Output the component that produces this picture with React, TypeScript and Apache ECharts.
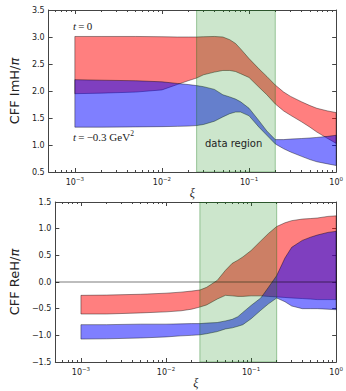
import React, { useEffect, useRef } from 'react';
import * as echarts from 'echarts';

// ---- data ----
const XI = [0.001, 0.002, 0.005, 0.01, 0.015, 0.02, 0.025, 0.03, 0.04, 0.05, 0.06, 0.07, 0.08, 0.1, 0.13, 0.16, 0.2, 0.25, 0.3, 0.4, 0.5, 0.6, 0.8, 1.0];

const IMH_T0_UPPER = [3.01, 3.01, 3.01, 3.005, 3.0, 3.0, 3.0, 3.005, 3.01, 3.0, 2.95, 2.88, 2.78, 2.6, 2.41, 2.27, 2.11, 1.98, 1.9, 1.8, 1.73, 1.68, 1.63, 1.6];
const IMH_T0_LOWER = [1.95, 1.96, 1.98, 2.02, 2.12, 2.19, 2.24, 2.3, 2.35, 2.38, 2.38, 2.36, 2.32, 2.25, 2.07, 1.93, 1.76, 1.63, 1.55, 1.43, 1.33, 1.24, 1.12, 1.03];
const IMH_T03_UPPER = [2.21, 2.2, 2.19, 2.17, 2.14, 2.12, 2.1, 2.08, 2.03, 1.93, 1.89, 1.85, 1.8, 1.68, 1.45, 1.26, 1.1, 1.1, 1.11, 1.12, 1.13, 1.14, 1.16, 1.18];
const IMH_T03_LOWER = [1.33, 1.33, 1.335, 1.34, 1.345, 1.35, 1.36, 1.38, 1.44, 1.52, 1.58, 1.61, 1.61, 1.54, 1.33, 1.18, 1.02, 0.93, 0.87, 0.79, 0.73, 0.69, 0.65, 0.62];

const REH_T0_UPPER = [-0.25, -0.245, -0.23, -0.21, -0.19, -0.17, -0.15, -0.1, 0.03, 0.22, 0.35, 0.41, 0.47, 0.59, 0.77, 0.91, 1.04, 1.11, 1.15, 1.18, 1.19, 1.2, 1.23, 1.24];
const REH_T0_LOWER = [-0.6, -0.6, -0.58, -0.56, -0.54, -0.51, -0.47, -0.43, -0.32, -0.25, -0.26, -0.27, -0.27, -0.26, -0.26, -0.27, -0.28, -0.29, -0.3, -0.31, -0.32, -0.33, -0.33, -0.33];
const REH_T03_UPPER = [-0.8, -0.8, -0.79, -0.79, -0.785, -0.78, -0.78, -0.77, -0.76, -0.73, -0.7, -0.65, -0.57, -0.44, -0.3, -0.1, 0.12, 0.45, 0.65, 0.78, 0.84, 0.88, 0.93, 0.95];
const REH_T03_LOWER = [-1.07, -1.065, -1.05, -1.03, -1.01, -1.0, -0.99, -0.97, -0.93, -0.88, -0.86, -0.83, -0.8, -0.69, -0.53, -0.41, -0.3, -0.37, -0.45, -0.5, -0.5, -0.5, -0.51, -0.52];

const DATA_REGION = [0.025, 0.2];
const X_RANGE = [5e-4, 1];
const IMH_RANGE = [0.5, 3.5];
const REH_RANGE = [-1.5, 1.5];
const Y_STEP = 0.5;
const MAJOR_TICKS = [0.001, 0.01, 0.1, 1];
const MINOR_TICKS = [6e-4, 7e-4, 8e-4, 9e-4, 0.002, 0.003, 0.004, 0.005, 0.006, 0.007, 0.008, 0.009, 0.02, 0.03, 0.04, 0.05, 0.06, 0.07, 0.08, 0.09, 0.2, 0.3, 0.4, 0.5, 0.6, 0.7, 0.8, 0.9];

const GRIDS = [
  { left: 47, top: 10, width: 294, height: 162 },
  { left: 47, top: 202, width: 294, height: 160 },
];

const FRAME = '#444';
const TXT = '#222';
const SANS = 'DejaVu Sans';
const SERIF = 'Liberation Serif';

function xAxesFor(g: number) {
  const base = {
    type: 'log', logBase: 10, gridIndex: g, min: X_RANGE[0], max: X_RANGE[1],
    splitLine: { show: false }, minorTick: { show: false },
  };
  const line = { show: true, onZero: false, lineStyle: { color: FRAME, width: 1 } };
  return [
    {
      ...base, position: 'bottom', axisLine: line,
      axisTick: { show: true, inside: true, length: 4, customValues: MAJOR_TICKS, lineStyle: { color: FRAME } },
      axisLabel: {
        show: true, customValues: MAJOR_TICKS, margin: 4,
        formatter: (v: number) => {
          const e = Math.round(Math.log10(v));
          return `{b|10}{s|${e < 0 ? '\u2212' : ''}${Math.abs(e)}}`;
        },
        rich: {
          b: { fontSize: 8, fontFamily: SANS, color: TXT, lineHeight: 13 },
          s: { fontSize: 5.5, fontFamily: SANS, color: TXT, lineHeight: 6, verticalAlign: 'top' },
        },
      },
      name: '\u03be', nameLocation: 'middle', nameGap: 14,
      nameTextStyle: { fontFamily: SERIF, fontStyle: 'italic', fontSize: 12, color: TXT },
    },
    {
      ...base, position: 'bottom', axisLine: { show: false, onZero: false },
      axisTick: { show: true, inside: true, length: 2, customValues: MINOR_TICKS, lineStyle: { color: FRAME } },
      axisLabel: { show: false },
    },
    {
      ...base, position: 'top', axisLine: line,
      axisTick: { show: true, inside: true, length: 4, customValues: MAJOR_TICKS, lineStyle: { color: FRAME } },
      axisLabel: { show: false },
    },
    {
      ...base, position: 'top', axisLine: { show: false, onZero: false },
      axisTick: { show: true, inside: true, length: 2, customValues: MINOR_TICKS, lineStyle: { color: FRAME } },
      axisLabel: { show: false },
    },
  ];
}

function yAxesFor(g: number, range: number[], name: string) {
  const base = {
    type: 'value', gridIndex: g, min: range[0], max: range[1], interval: Y_STEP,
    splitLine: { show: false },
    axisLine: { show: true, onZero: false, lineStyle: { color: FRAME, width: 1 } },
    axisTick: { show: true, inside: true, length: 4, lineStyle: { color: FRAME } },
  };
  return [
    {
      ...base, position: 'left',
      axisLabel: {
        show: true, fontSize: 8, fontFamily: SANS, color: TXT, margin: 4,
        formatter: (v: number) => v.toFixed(1).replace('-', '\u2212'),
      },
      name, nameLocation: 'middle', nameGap: 21,
      nameTextStyle: {
        fontFamily: SANS, fontSize: 13, color: TXT,
        rich: { p: { fontFamily: SANS, fontSize: 13, fontStyle: 'italic', color: TXT } },
      },
    },
    { ...base, position: 'right', axisLabel: { show: false } },
  ];
}

function band(g: number, lower: number[], upper: number[], fill: string) {
  return {
    type: 'custom', xAxisIndex: g * 4, yAxisIndex: g * 2,
    data: [[0.01, g === 0 ? 2 : 0]], clip: true, silent: true,
    renderItem: (_p: any, api: any) => {
      const pts: number[][] = [];
      for (let i = 0; i < XI.length; i++) pts.push(api.coord([XI[i], upper[i]]));
      for (let i = XI.length - 1; i >= 0; i--) pts.push(api.coord([XI[i], lower[i]]));
      return {
        type: 'polygon', shape: { points: pts },
        style: { fill, stroke: 'rgba(0,0,0,0.5)', lineWidth: 0.8 },
      };
    },
  };
}

function dataRegion(g: number) {
  return {
    type: 'custom', xAxisIndex: g * 4, yAxisIndex: g * 2,
    data: [[0.05, g === 0 ? 2 : 0]], clip: true, silent: true,
    renderItem: (p: any, api: any) => {
      const cs = p.coordSys;
      const ymid = g === 0 ? 2 : 0;
      const x0 = api.coord([DATA_REGION[0], ymid])[0];
      const x1 = api.coord([DATA_REGION[1], ymid])[0];
      return {
        type: 'rect', shape: { x: x0, y: cs.y, width: x1 - x0, height: cs.height },
        style: { fill: 'rgba(0,128,0,0.2)', stroke: 'rgba(0,110,0,0.35)', lineWidth: 1 },
      };
    },
  };
}

function zeroLine(g: number) {
  return {
    type: 'custom', xAxisIndex: g * 4, yAxisIndex: g * 2,
    data: [[0.05, 0]], clip: true, silent: true,
    renderItem: (p: any, api: any) => {
      const cs = p.coordSys;
      const y = api.coord([0.05, 0])[1];
      return {
        type: 'line', shape: { x1: cs.x, y1: y, x2: cs.x + cs.width, y2: y },
        style: { stroke: 'rgba(0,0,0,0.65)', lineWidth: 0.8 },
      };
    },
  };
}

export default function App() {
  const ref = useRef<HTMLDivElement>(null);
  useEffect(() => {
    if (!ref.current) return;
    const chart = echarts.init(ref.current, null, { renderer: 'svg' });
    const RED = 'rgba(255,0,0,0.5)';
    const BLUE = 'rgba(0,0,255,0.5)';
    chart.setOption({
      animation: false,
      backgroundColor: '#fff',
      grid: GRIDS.map((g) => ({ ...g, containLabel: false })),
      xAxis: [...xAxesFor(0), ...xAxesFor(1)],
      yAxis: [
        ...yAxesFor(0, IMH_RANGE, 'CFF ImH/{p|\u03c0}'),
        ...yAxesFor(1, REH_RANGE, 'CFF ReH/{p|\u03c0}'),
      ],
      series: [
        band(0, IMH_T0_LOWER, IMH_T0_UPPER, RED),
        band(0, IMH_T03_LOWER, IMH_T03_UPPER, BLUE),
        dataRegion(0),
        band(1, REH_T0_LOWER, REH_T0_UPPER, RED),
        band(1, REH_T03_LOWER, REH_T03_UPPER, BLUE),
        zeroLine(1),
        dataRegion(1),
      ],
      graphic: [
        {
          type: 'text', left: 73, top: 20, z: 10,
          style: {
            text: '{i|t}{n|\u2009=\u20090}',
            rich: {
              i: { fontFamily: SERIF, fontStyle: 'italic', fontSize: 11, fill: TXT },
              n: { fontFamily: SERIF, fontSize: 11, fill: TXT },
            },
          },
        },
        {
          type: 'text', left: 73, top: 129, z: 10,
          style: {
            text: '{i|t}{n|\u2009=\u2009\u22120.3 GeV}{s|2}',
            rich: {
              i: { fontFamily: SERIF, fontStyle: 'italic', fontSize: 11, fill: TXT, lineHeight: 15 },
              n: { fontFamily: SERIF, fontSize: 11, fill: TXT, lineHeight: 15 },
              s: { fontFamily: SERIF, fontSize: 7.5, fill: TXT, lineHeight: 8, verticalAlign: 'top' },
            },
          },
        },
        {
          type: 'text', left: 205, top: 138, z: 10,
          style: { text: 'data region', fontFamily: SANS, fontSize: 10, fill: TXT },
        },
      ],
    });
    return () => chart.dispose();
  }, []);
  return (
    <div
      ref={ref}
      style={{ position: 'absolute', left: 0, top: 0, width: 346, height: 391 }}
    />
  );
}
